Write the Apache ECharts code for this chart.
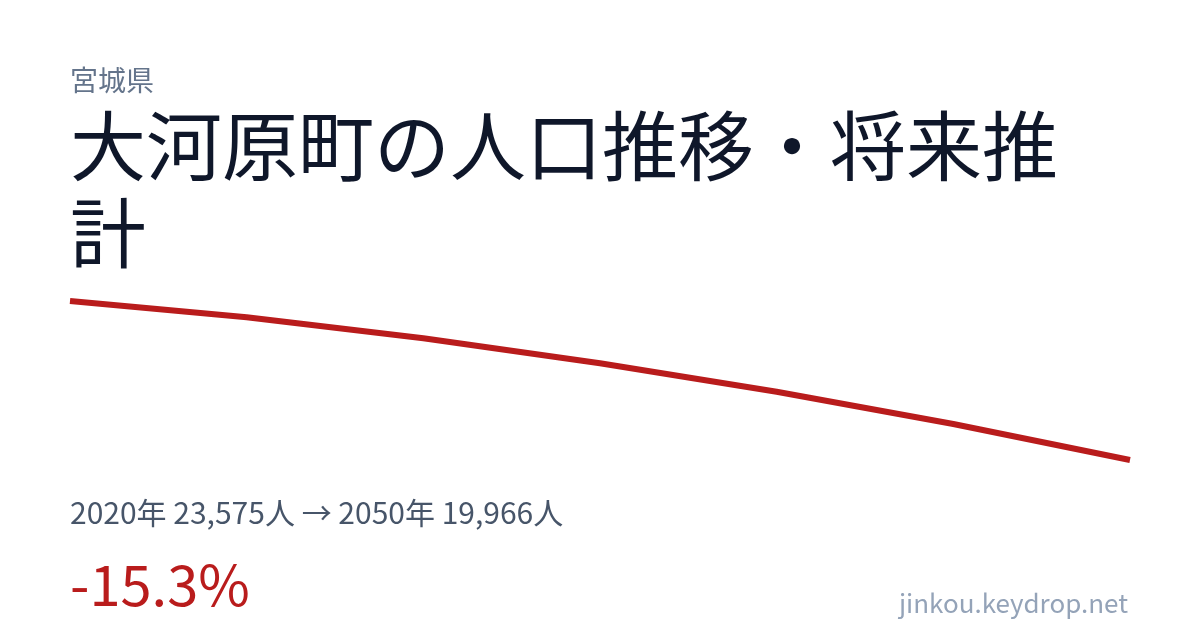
<!DOCTYPE html>
<html>
<head>
<meta charset="utf-8">
<script src="https://cdn.jsdelivr.net/npm/echarts@6/dist/echarts.min.js"></script>
<style>
  html, body { margin: 0; padding: 0; background: #fff; }
  #main { width: 1200px; height: 630px; }
</style>
</head>
<body>
<div id="main"></div>
<script>
// 年と人口（推計）
var years = ['2020', '2025', '2030', '2035', '2040', '2045', '2050'];
var population = [23575, 23205, 22728, 22161, 21516, 20783, 19966];

var prefName = '宮城県';
var titleText = '大河原町の人口推移・将来推計';
var summaryText = '2020年 23,575人 → 2050年 19,966人';
var changeText = '-15.3%';
var siteText = 'jinkou.keydrop.net';

var font = '"Noto Sans CJK JP", "Noto Sans", sans-serif';

var chart = echarts.init(document.getElementById('main'));
var option = {
    backgroundColor: '#ffffff',
    animation: false,
    grid: { left: 70, right: 70, top: 301, bottom: 170 },
    xAxis: {
        type: 'category',
        data: years,
        boundaryGap: false,
        show: false
    },
    yAxis: {
        type: 'value',
        min: function (v) { return v.min; },
        max: function (v) { return v.max; },
        show: false
    },
    series: [{
        type: 'line',
        data: population,
        showSymbol: false,
        clip: false,
        lineStyle: { color: '#b91c1c', width: 6, cap: 'butt' }
    }],
    graphic: [
        {
            type: 'text', left: 70, top: 66,
            style: { text: prefName, fontSize: 28, fontFamily: font, fill: '#64748b' }
        },
        {
            type: 'text', left: 70, top: 103,
            style: {
                text: titleText, fontSize: 76, fontFamily: font, fill: '#0f172a',
                width: 1060, overflow: 'break', lineHeight: 87
            }
        },
        {
            type: 'text', left: 70, top: 498,
            style: { text: summaryText, fontSize: 30, fontFamily: font, fill: '#475569' }
        },
        {
            type: 'text', left: 70, top: 557,
            style: { text: changeText, fontSize: 56, fontFamily: font, fill: '#b91c1c' }
        },
        {
            type: 'text', right: 72, top: 590,
            style: { text: siteText, fontSize: 26, fontFamily: font, fill: '#94a3b8' }
        }
    ]
};
chart.setOption(option);
</script>
</body>
</html>
